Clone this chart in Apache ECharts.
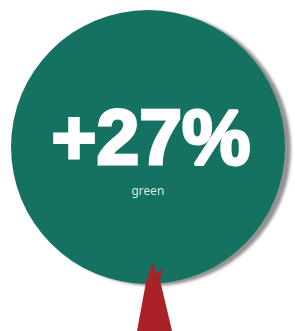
<!DOCTYPE html>
<html>
<head>
<meta charset="utf-8">
<script src="https://cdn.jsdelivr.net/npm/echarts@6/dist/echarts.min.js"></script>
<style>
html,body{margin:0;padding:0;background:#fff;}
#main{width:295px;height:331px;}
</style>
</head>
<body>
<div id="main"></div>
<script>
// 数据
var names = ['green'];
var values = [27];
var labels = ['+27%'];

var chart = echarts.init(document.getElementById('main'));
var option = {
  animation: false,
  series: [{
    type: 'pie',
    center: [148, 147],
    radius: [0, 137],
    silent: true,
    startAngle: 90,
    itemStyle: {
      color: '#157262',
      shadowColor: 'rgba(110,110,110,0.75)',
      shadowBlur: 3,
      shadowOffsetX: 6,
      shadowOffsetY: 2
    },
    label: {
      show: true,
      position: 'center',
      offset: [0, 9],
      formatter: function (p) {
        return '{big|' + labels[p.dataIndex] + '}\n{small|' + p.name + '}';
      },
      rich: {
        big: {
          fontFamily: 'Liberation Sans',
          fontWeight: 'bold',
          fontSize: 77,
          color: '#fff',
          textBorderColor: '#fff',
          textBorderWidth: 3,
          lineHeight: 72,
          padding: [0, 0, 0, 6]
        },
        small: {
          fontFamily: 'Noto Sans',
          fontSize: 12,
          color: '#d6ece5',
          lineHeight: 26
        }
      }
    },
    labelLine: { show: false },
    data: names.map(function (n, i) { return { name: n, value: values[i] }; })
  }],
  graphic: [{
    type: 'polygon',
    z: 100,
    shape: {
      points: [[137, 331], [172, 331], [160, 280], [163, 267], [157, 274], [153, 262], [146, 282]]
    },
    style: { fill: '#a82228' }
  }]
};
chart.setOption(option);
</script>
</body>
</html>
